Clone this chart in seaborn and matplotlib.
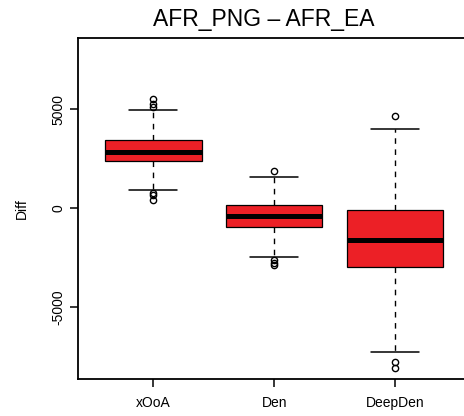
import matplotlib
matplotlib.use("Agg")
import matplotlib.pyplot as plt
import seaborn as sns
import pandas as pd

# ---- data ----
groups = ["xOoA", "Den", "DeepDen"]
whisker_low = [909, -2475, -7273]
quartile1 = [2374, -944, -2990]
medians = [2843, -389, -1616]
quartile3 = [3434, 152, -101]
whisker_high = [4949, 1566, 4005]
outliers_low = [[760, 657, 404], [-2626, -2763, -2879], [-7763, -8096]]
outliers_high = [[5086, 5253, 5505], [1884], [4662]]
ytick_values = [-5000, 0, 5000]
ytick_labels = ["-5000", "0", "5000"]
title = "AFR_PNG \u2013 AFR_EA"
ylabel = "Diff"

# Observations that reproduce the summary statistics above
K = 40
rows = []
for g, lo, a, m, b, hi, fl, fh in zip(groups, whisker_low, quartile1, medians,
                                      quartile3, whisker_high, outliers_low, outliers_high):
    vals = list(fl) + [lo] + [a] * K + [m] * K + [b] * K + [hi] + list(fh)
    rows += [(g, v) for v in vals]
df = pd.DataFrame(rows, columns=["group", "value"])

sns.set_style("ticks")
plt.rcParams["font.family"] = ["Liberation Sans", "DejaVu Sans"]
plt.rcParams["text.color"] = "black"
plt.rcParams["axes.labelcolor"] = "black"

fig = plt.figure(figsize=(4.6401, 4.1601), dpi=100)
ax = fig.add_axes([78 / 464, (416 - 379) / 416, 392.3 / 464, 341 / 416])

red = "#EC2026"
sns.boxplot(data=df, x="group", y="value", order=groups, ax=ax,
            color=red, saturation=1, linecolor="black", linewidth=0.9,
            width=0.8, fliersize=4.5,
            whiskerprops=dict(linestyle=(0, (4, 4)), linewidth=1.0),
            capprops=dict(linewidth=1.1),
            medianprops=dict(linewidth=3.6, color="black"),
            flierprops=dict(marker="o", markerfacecolor="none",
                            markeredgecolor="black", markeredgewidth=1.0))

ax.set_xlim(-0.623, 2.623)
ax.set_ylim(-8636, 8586)
ax.set_yticks(ytick_values)
ax.set_yticklabels(ytick_labels, rotation=90, va="center")
ax.set_xlabel("")
ax.set_ylabel(ylabel, fontsize=10, labelpad=16.5, color="black")
ax.tick_params(axis="both", labelsize=10, length=6, width=1.1, direction="out",
               color="black", labelcolor="black")
ax.tick_params(axis="y", pad=3)
ax.tick_params(axis="x", pad=6)
for name, s in ax.spines.items():
    s.set_linewidth(1.3)
    s.set_color("black")
    s.set_visible(True)
ax.set_title(title, fontsize=16.5, x=(263.5 - 78) / 392.3, pad=9, color="black")

fig.savefig("out.png", dpi=100)
